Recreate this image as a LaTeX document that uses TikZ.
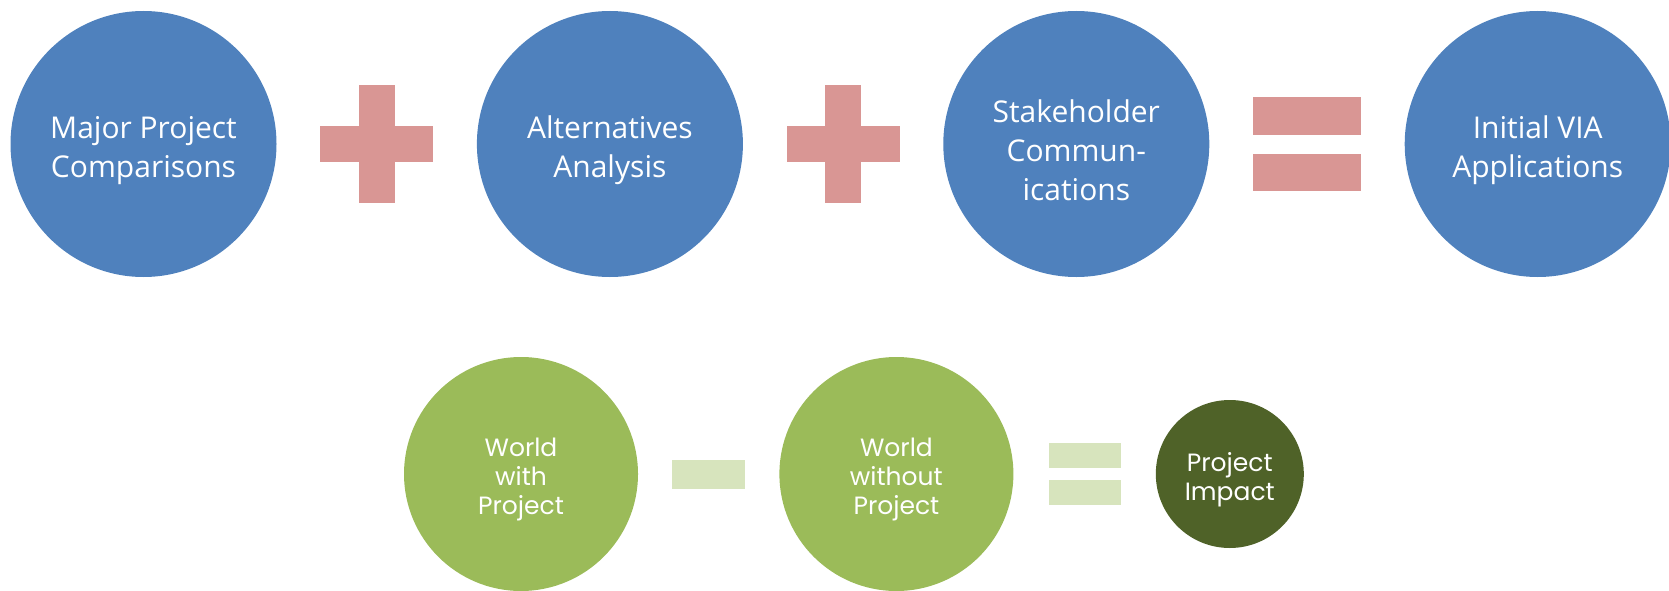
\documentclass[tikz,border=0pt]{standalone}
\usepackage{fontspec}
\setmainfont{Open Sans}
\newfontfamily\gothic{Poppins}
\usetikzlibrary{positioning,calc}
\definecolor{viablue}{HTML}{4F81BD}
\definecolor{oprose}{HTML}{D99694}
\definecolor{worldgreen}{HTML}{9BBB59}
\definecolor{oplime}{HTML}{D7E4BD}
\definecolor{impactgreen}{HTML}{4F6228}
\newcommand\lift{\rule{0pt}{1.2em}}
\tikzset{
  big/.style={circle,fill=viablue,text=white,minimum size=266pt,inner sep=0pt,
    align=center,font=\fontsize{30}{39}\selectfont},
  world/.style={circle,fill=worldgreen,text=white,minimum size=234pt,inner sep=0pt,
    align=center,font=\gothic\fontsize{25}{29}\selectfont},
  impact/.style={world,fill=impactgreen,minimum size=148pt},
  bar/.style={rectangle,inner sep=0pt,fill=oprose},
  thinbar/.style={rectangle,inner sep=0pt,fill=oplime}
}

\begin{document}
\begin{tikzpicture}[x=1pt,y=-1pt,node distance=200pt]
  \useasboundingbox (0,0) rectangle (1669,591);
  % top row
  \node[big] (mpc) at (143.5,144) {\lift Major Project\\Comparisons};
  \node[big,right=of mpc] (alt) {\lift Alternatives\\Analysis};
  \node[big,right=of alt] (stk) {\lift Stakeholder\\Commun-\\ications};
  \node[big,right=195pt of stk] (via) {\lift Initial VIA\\Applications};
  \coordinate (p1) at ($(mpc)!.5!(alt)$);
  \coordinate (p2) at ($(alt)!.5!(stk)$);
  \coordinate (e1) at ($(stk)!.5!(via)$);
  \node[bar,minimum width=113pt,minimum height=36pt] (p1h) at (p1) {};
  \node[bar,minimum width=36pt,minimum height=117pt] (p1v) at (p1) {};
  \node[bar,minimum width=113pt,minimum height=36pt] (p2h) at (p2) {};
  \node[bar,minimum width=36pt,minimum height=117pt] (p2v) at (p2) {};
  \node[bar,minimum width=108pt,minimum height=37pt] (e1a) at ($(e1)+(0,-28)$) {};
  \node[bar,minimum width=108pt,minimum height=37pt] (e1b) at ($(e1)+(0,28)$) {};
  % bottom row
  \node[world] (wwp) at (521,474) {\lift World\\with\\Project};
  \node[world,right=141pt of wwp] (wop) {\lift World\\without\\Project};
  \node[impact,right=142pt of wop] (imp) {\lift Project\\Impact};
  \coordinate (m1) at ($(wwp)!.5!(wop)$);
  \coordinate (e2) at ($(wop.east)!.5!(imp.west)$);
  \node[thinbar,minimum width=73pt,minimum height=29pt] (m1a) at (m1) {};
  \node[thinbar,minimum width=72pt,minimum height=25pt] (e2a) at ($(e2)+(0,-18.5)$) {};
  \node[thinbar,minimum width=72pt,minimum height=25pt] (e2b) at ($(e2)+(0,18.5)$) {};
\end{tikzpicture}
\end{document}
